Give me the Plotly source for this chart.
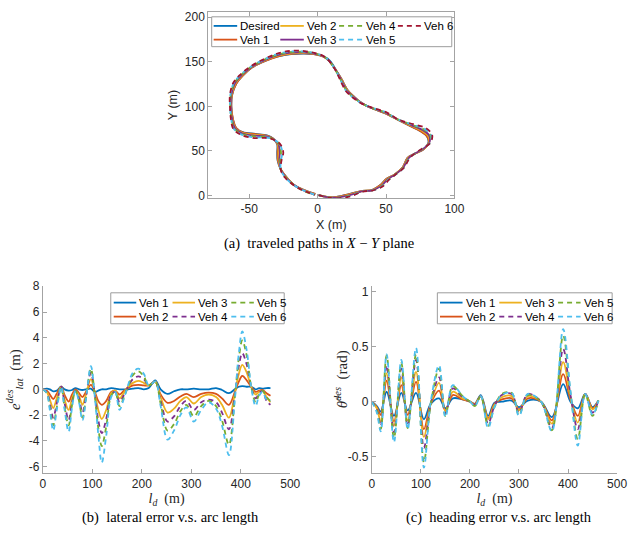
import numpy as np
import plotly.graph_objects as go

W, H = 644, 545

# ---------------- (a) desired path (m) ----------------
X_DES = [0.7, 11.3, 23.0, 32.6, 39.7, 45.6, 50.4, 56.3, 62.2, 65.7, 70.4, 77.5, 81.0, 79.9,
         75.2, 68.0, 58.6, 49.2, 39.7, 32.6, 26.7, 22.0, 17.3, 13.7, 9.0, 4.3, -2.8, -9.9,
         -19.4, -28.8, -38.3, -47.8, -54.8, -59.6, -62.6, -63.1, -61.9, -59.6, -54.8, -45.4,
         -37.1, -32.4, -29.6, -29.6, -29.3, -27.0, -22.9, -17.0, -9.9, -1.7]
Y_DES = [0.4, -2.2, 1.5, 5.0, 5.9, 11.4, 18.8, 23.5, 31.6, 42.0, 46.3, 51.8, 59.2, 66.5,
         72.0, 77.6, 85.0, 92.3, 97.8, 103.3, 110.7, 118.0, 131.0, 140.0, 151.0, 156.0, 158.5, 159.2,
         158.5, 156.0, 151.0, 143.8, 134.6, 125.4, 112.5, 99.6, 85.0, 75.7, 71.0, 69.0,
         67.3, 63.6, 57.4, 48.2, 39.0, 29.0, 20.6, 11.4, 5.9, 1.5]

# ---------------- (b) lateral error vs arc length ----------------
S_LAT = [0, 8, 14, 21, 28, 37, 44, 52, 59, 66, 73, 80, 87, 97, 105, 112, 119, 128, 138, 146,
         155, 163, 172, 182, 193, 204, 214, 227, 238, 252, 265, 278, 290, 305, 320, 335, 350,
         362, 376, 388, 396, 403, 412, 421, 430, 437, 444, 452, 460]
LAT_V1 = [0, 0.05, 0.0, -0.15, -0.1, 0.2, 0.0, -0.1, -0.05, 0.1, 0.0, -0.05, 0.0, 0.05, -0.2,
          -0.1, 0.0, 0.0, 0.1, 0.05, 0.0, 0.0, 0.0, 0.05, 0.1, 0.0, 0.1, 0.7, 0.0, -0.35,
          -0.15, 0.0, 0.0, 0.05, 0.0, 0.0, 0.1, -0.05, -0.3, 0.0, 0.2, 0.25, 0.2, 0.2, 0.0,
          0.1, 0.05, 0.1, 0.1]
LAT_V2 = [0, -0.1, -0.4, -0.75, -0.35, 0.2, -0.45, -0.95, -0.4, 0.0, -0.3, -0.6, -0.2, 0.35,
          -0.2, -0.9, -1.2, -0.9, -0.2, -0.1, -0.4, -0.15, 0.1, 0.3, 0.35, 0.3, 0.3, 0.6, -0.4,
          -1.05, -0.9, -0.55, -0.35, -0.6, -0.35, -0.25, -0.35, -0.7, -1.2, -0.2, 0.6, 1.05,
          0.7, 0.2, -0.2, -0.1, -0.05, -0.3, -0.5]
LAT_V3 = [0, -0.2, -0.8, -1.45, -0.7, 0.2, -0.8, -1.6, -0.7, -0.1, -0.5, -1.2, -0.4, 0.8,
          -0.3, -1.6, -2.3, -1.6, -0.3, -0.1, -0.7, -0.3, 0.2, 0.5, 0.65, 0.5, 0.3, 0.6, -0.6,
          -1.8, -1.5, -0.9, -0.6, -1.1, -0.6, -0.4, -0.6, -1.2, -2.2, -0.3, 1.2, 1.9, 1.3,
          0.2, -0.4, -0.2, -0.1, -0.6, -1.0]
LAT_V4 = [0, -0.2, -1.1, -2.2, -1.1, 0.2, -1.1, -2.4, -1.0, -0.1, -0.7, -1.8, -0.6, 1.3,
          -0.4, -2.4, -3.4, -2.3, -0.4, -0.2, -1.0, -0.5, 0.2, 0.8, 1.0, 0.8, 0.3, 0.6, -0.9,
          -2.5, -2.1, -1.3, -0.9, -1.6, -1.0, -0.8, -1.0, -1.8, -3.1, -0.4, 1.8, 2.8, 1.9,
          0.2, -0.7, -0.3, -0.1, -0.9, -1.2]
LAT_V5 = [0, -0.3, -1.4, -2.8, -1.4, 0.2, -1.4, -2.8, -1.2, -0.1, -0.9, -2.2, -0.7, 1.6,
          -0.5, -3.0, -4.4, -2.9, -0.5, -0.2, -1.3, -0.7, 0.2, 1.1, 1.4, 1.0, 0.3, 0.6, -1.1,
          -3.2, -2.7, -1.7, -1.2, -2.1, -1.3, -0.9, -1.3, -2.4, -4.3, -0.6, 2.4, 3.8, 2.6,
          0.2, -1.0, -0.4, -0.1, -0.6, -0.9]
LAT_V6 = [0, -0.3, -1.6, -3.2, -1.6, 0.2, -1.6, -3.3, -1.4, -0.1, -1.0, -2.4, -0.8, 1.8,
          -0.6, -3.5, -5.7, -3.6, -0.6, -0.2, -1.6, -0.8, 0.3, 1.3, 1.6, 1.2, 0.3, 0.6, -1.3,
          -3.9, -3.2, -2.0, -1.4, -2.5, -1.6, -1.0, -1.5, -2.8, -5.1, -0.8, 2.8, 4.5, 3.0,
          0.2, -1.3, -0.5, -0.2, -0.8, -0.9]

# ---------------- (c) heading error vs arc length ----------------
S_HEAD = [0, 10, 18, 30, 45, 60, 73, 90, 106, 120, 137, 150, 165, 185, 200, 210, 222, 237,
          250, 265, 285, 300, 318, 345, 367, 390, 405, 420, 435, 450, 462]
HEAD_V1 = [0, -0.04, -0.09, 0.09, -0.13, 0.08, -0.08, 0.08, -0.16, -0.02, 0.03, -0.06, 0.03,
           0.02, 0.0, -0.02, 0.06, -0.13, -0.01, 0.0, 0.01, -0.05, 0.01, 0.0, -0.14, 0.16,
           0.0, -0.06, 0.07, -0.05, 0.01]
HEAD_V2 = [0, -0.05, -0.12, 0.19, -0.18, 0.15, -0.12, 0.18, -0.25, -0.02, 0.10, -0.08, 0.06,
           0.02, 0.0, -0.02, 0.05, -0.15, -0.02, 0.02, 0.03, -0.07, 0.03, 0.0, -0.17, 0.25,
           0.02, -0.13, 0.07, -0.06, 0.01]
HEAD_V3 = [0, -0.06, -0.18, 0.26, -0.22, 0.22, -0.17, 0.27, -0.32, -0.02, 0.17, -0.09, 0.09,
           0.03, 0.0, -0.03, 0.05, -0.16, -0.03, 0.04, 0.05, -0.08, 0.05, 0.0, -0.20, 0.36,
           0.04, -0.19, 0.07, -0.07, 0.01]
HEAD_V4 = [0, -0.07, -0.22, 0.33, -0.28, 0.30, -0.22, 0.38, -0.42, -0.02, 0.22, -0.11, 0.12,
           0.04, 0.0, -0.03, 0.05, -0.20, -0.04, 0.06, 0.07, -0.10, 0.07, 0.0, -0.24, 0.48,
           0.06, -0.25, 0.07, -0.10, 0.01]
HEAD_V5 = [0, -0.08, -0.25, 0.42, -0.33, 0.35, -0.24, 0.43, -0.55, -0.02, 0.30, -0.13, 0.14,
           0.05, 0.0, -0.04, 0.05, -0.22, -0.05, 0.07, 0.08, -0.12, 0.06, 0.0, -0.26, 0.60,
           0.08, -0.34, 0.07, -0.13, 0.01]
HEAD_V6 = [0, -0.10, -0.27, 0.43, -0.37, 0.38, -0.25, 0.49, -0.60, 0.0, 0.33, -0.14, 0.15,
           0.05, 0.0, -0.04, 0.05, -0.24, -0.05, 0.06, 0.08, -0.13, 0.07, 0.0, -0.27, 0.66,
           0.10, -0.40, 0.07, -0.12, 0.01]

VEH_NAMES = ["Veh 1", "Veh 2", "Veh 3", "Veh 4", "Veh 5", "Veh 6"]
LAT = [LAT_V1, LAT_V2, LAT_V3, LAT_V4, LAT_V5, LAT_V6]
HEAD = [HEAD_V1, HEAD_V2, HEAD_V3, HEAD_V4, HEAD_V5, HEAD_V6]

# tick labels
A_XTICKS = [-50, 0, 50, 100]
A_XLABELS = ["-50", "0", "50", "100"]
A_YTICKS = [0, 50, 100, 150, 200]
A_YLABELS = ["0", "50", "100", "150", "200"]
B_XTICKS = [0, 100, 200, 300, 400, 500]
B_XLABELS = ["0", "100", "200", "300", "400", "500"]
B_YTICKS = [-6, -4, -2, 0, 2, 4, 6, 8]
B_YLABELS = ["-6", "-4", "-2", "0", "2", "4", "6", "8"]
C_YTICKS = [-0.5, 0, 0.5, 1]
C_YLABELS = ["-0.5", "0", "0.5", "1"]

# ---------------- styles ----------------
COL_A = ["#0072BD", "#D95319", "#EDB120", "#7E2F8E", "#77AC30", "#4DBEEE", "#A2142F"]
DASH_A = ["solid", "solid", "solid", "solid", "5px,4px", "5px,4px", "5px,4px"]
COL_B = ["#0072BD", "#D95319", "#EDB120", "#7E2F8E", "#77AC30", "#4DBEEE"]
DASH_B = ["solid", "solid", "solid", "5px,4px", "5px,4px", "5px,4px"]
LW = 1.8
AX_COL = "#a3a3a3"
TXT = "#262626"
SANS = "Liberation Sans, Arial, sans-serif"
SERIF = "Liberation Serif, Times New Roman, serif"

fig = go.Figure()

# ---- (a) paths: vehicles = desired path displaced along its normal by lateral error ----
xd = np.array(X_DES, float)
yd = np.array(Y_DES, float)
seg = np.hypot(np.diff(xd), np.diff(yd))
s_des = np.concatenate([[0.0], np.cumsum(seg)])
s_des = s_des / s_des[-1] * S_LAT[-1]
tx, ty = np.gradient(xd), np.gradient(yd)
tn = np.hypot(tx, ty)
nx, ny = -ty / tn, tx / tn

fig.add_trace(go.Scatter(x=xd, y=yd, mode="lines", name="Desired",
                         line=dict(color=COL_A[0], width=LW, shape="spline"),
                         xaxis="x", yaxis="y", showlegend=False))
for i, name in enumerate(VEH_NAMES):
    e = np.interp(s_des, S_LAT, LAT[i])
    fig.add_trace(go.Scatter(x=xd + e * nx, y=yd + e * ny, mode="lines", name=name,
                             line=dict(color=COL_A[i + 1], width=LW, dash=DASH_A[i + 1],
                                       shape="spline"),
                             xaxis="x", yaxis="y", showlegend=False))

# ---- (b) lateral error ----
for i, name in enumerate(VEH_NAMES):
    fig.add_trace(go.Scatter(x=S_LAT, y=LAT[i], mode="lines", name=name,
                             line=dict(color=COL_B[i], width=LW, dash=DASH_B[i],
                                       shape="spline", smoothing=1.0),
                             xaxis="x2", yaxis="y2", showlegend=False))

# ---- (c) heading error ----
for i, name in enumerate(VEH_NAMES):
    fig.add_trace(go.Scatter(x=S_HEAD, y=HEAD[i], mode="lines", name=name,
                             line=dict(color=COL_B[i], width=LW, dash=DASH_B[i],
                                       shape="spline", smoothing=1.0),
                             xaxis="x3", yaxis="y3", showlegend=False))


def px(x):
    return x / W


def py(y):
    return 1 - y / H


def axis(domain, rng, tickvals, ticktext, anchor, mirror=False, title="", font=None, standoff=4):
    return dict(domain=domain, range=rng, tickvals=tickvals, ticktext=ticktext, anchor=anchor,
                showline=True, linecolor=AX_COL, linewidth=1, mirror="ticks" if mirror else False,
                ticks="inside", ticklen=4, tickcolor=AX_COL, showgrid=False, zeroline=False,
                tickfont=dict(family=SANS, size=12, color=TXT),
                title=dict(text=title, font=font or dict(family=SANS, size=12.5, color=TXT),
                           standoff=standoff))


A_X = [px(209.5), px(460.7)]
A_Y = [py(195), py(5)]
B_X = [px(40.7), px(293.2)]
C_X = [px(376.5), px(626.7)]
BC_Y = [py(475.7), py(285)]
serif_font = dict(family=SERIF, size=15, color=TXT)
xt_font = dict(family=SERIF, size=14, color=TXT)

fig.update_layout(
    width=W, height=H, margin=dict(l=0, r=0, t=0, b=0),
    paper_bgcolor="white", plot_bgcolor="white",
    xaxis=axis(A_X, [-80, 100], A_XTICKS, A_XLABELS, "y", True, "X (m)", standoff=4),
    yaxis=axis(A_Y, [-3, 206], A_YTICKS, A_YLABELS, "x", True, "Y (m)", standoff=4),
    xaxis2=axis(B_X, [0, 500], B_XTICKS, B_XLABELS, "y2", False,
                "<i>l</i><sub><i>d</i></sub>  (m)", xt_font, 0),
    yaxis2=axis(BC_Y, [-6.5, 8], B_YTICKS, B_YLABELS, "x2", False),
    xaxis3=axis(C_X, [0, 500], B_XTICKS, B_XLABELS, "y3", False,
                "<i>l</i><sub><i>d</i></sub>  (m)", xt_font, 0),
    yaxis3=axis(BC_Y, [-0.65, 1.05], C_YTICKS, C_YLABELS, "x3", False),
)

shapes = []
annotations = []

# y-axis titles of (b) and (c), placed precisely
annotations.append(dict(xref="paper", yref="paper", x=px(12), y=py(380), textangle=-90,
                        text="<i>e</i><sup><i>des</i></sup><sub><i>lat</i></sub>  (m)",
                        showarrow=False, xanchor="center", yanchor="middle", font=serif_font))
annotations.append(dict(xref="paper", yref="paper", x=px(345), y=py(380), textangle=-90,
                        text="<i>θ̃</i><sup><i>des</i></sup>  (rad)",
                        showarrow=False, xanchor="center", yanchor="middle", font=serif_font))


def add_legend(names, colors, dashes, col_x, row_y, box, sample_len):
    x0, y0, x1, y1 = box
    shapes.append(dict(type="rect", xref="paper", yref="paper", x0=px(x0), x1=px(x1),
                       y0=py(y1), y1=py(y0), line=dict(color="#9c9c9c", width=1),
                       fillcolor="white", layer="above"))
    for k, (nm, c, d) in enumerate(zip(names, colors, dashes)):
        cx = col_x[k // 2]
        ry = row_y[k % 2]
        shapes.append(dict(type="line", xref="paper", yref="paper", x0=px(cx),
                           x1=px(cx + sample_len), y0=py(ry), y1=py(ry),
                           line=dict(color=c, width=LW, dash=d), layer="above"))
        annotations.append(dict(xref="paper", yref="paper", x=px(cx + sample_len + 1),
                                y=py(ry), text=nm, showarrow=False, xanchor="left",
                                yanchor="middle", font=dict(family=SANS, size=11.5, color="black")))


add_legend(["Desired"] + VEH_NAMES, COL_A, DASH_A, [215, 283, 343, 403], [19.3, 33.3],
           (213, 10, 458, 40.5), 24)
add_legend(VEH_NAMES, COL_B, DASH_B, [113, 173, 233], [301.7, 316.0],
           (110, 291.7, 287, 323.3), 23)
add_legend(VEH_NAMES, COL_B, DASH_B, [446, 506.5, 566.5], [301.7, 316.0],
           (443.3, 291.7, 621.7, 323.3), 23)

cap_font = dict(family=SERIF, size=14.5, color="black")
annotations.append(dict(xref="paper", yref="paper", x=px(322), y=py(241),
                        text="(a)  traveled paths in <i>X</i> − <i>Y</i> plane",
                        showarrow=False, xanchor="center", yanchor="middle", font=cap_font))
annotations.append(dict(xref="paper", yref="paper", x=px(171), y=py(521),
                        text="(b)  lateral error v.s. arc length",
                        showarrow=False, xanchor="center", yanchor="middle", font=cap_font))
annotations.append(dict(xref="paper", yref="paper", x=px(506), y=py(521),
                        text="(c)  heading error v.s. arc length",
                        showarrow=False, xanchor="center", yanchor="middle", font=cap_font))

fig.update_layout(shapes=shapes, annotations=annotations)
fig.write_html("out.html")
